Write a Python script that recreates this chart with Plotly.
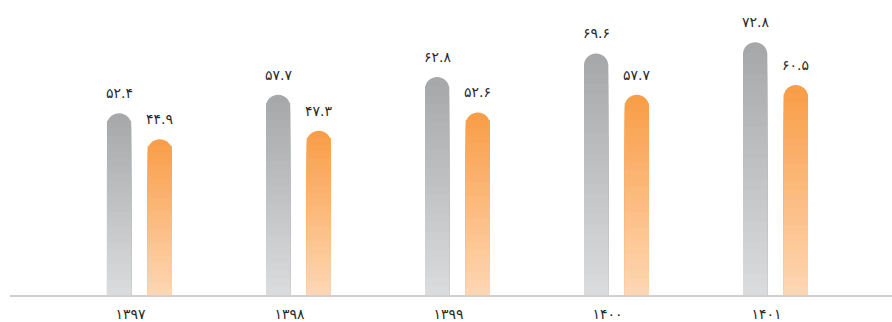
import plotly.graph_objects as go

years = ["۱۳۹۷", "۱۳۹۸", "۱۳۹۹", "۱۴۰۰", "۱۴۰۱"]
gray_vals = [52.4, 57.7, 62.8, 69.6, 72.8]
orange_vals = [44.9, 47.3, 52.6, 57.7, 60.5]
gray_labels = ["۵۲.۴", "۵۷.۷", "۶۲.۸", "۶۹.۶", "۷۲.۸"]
orange_labels = ["۴۴.۹", "۴۷.۳", "۵۲.۶", "۵۷.۷", "۶۰.۵"]

FONT = "DejaVu Sans, sans-serif"
BAR_W = 0.152
SHIFT = 0.128
STEPS = 24


def _mix(c1, c2, t):
    return "rgb({},{},{})".format(*[round(a + (b - a) * t) for a, b in zip(c1, c2)])


def add_gradient_bars(fig, vals, offset, top, bottom):
    xs = list(range(len(vals)))
    # full bar with rounded top, then lighter flat layers over the lower part
    for k in range(STEPS, 0, -1):
        frac = k / STEPS
        t = 1 - frac
        fig.add_trace(go.Bar(
            x=xs, y=[v * frac for v in vals],
            width=BAR_W, offset=offset - BAR_W / 2,
            marker=dict(color=_mix(top, bottom, t), line_width=0,
                        cornerradius="50%" if k == STEPS else 0),
            hoverinfo="skip" if k != STEPS else None,
            showlegend=False,
        ))


fig = go.Figure()
add_gradient_bars(fig, gray_vals, -SHIFT, (166, 168, 170), (220, 221, 223))
add_gradient_bars(fig, orange_vals, SHIFT, (249, 158, 72), (254, 216, 182))

for i in range(len(years)):
    for vals, labs, off in ((gray_vals, gray_labels, -SHIFT),
                            (orange_vals, orange_labels, SHIFT)):
        fig.add_annotation(x=i + off, y=vals[i], text=labs[i], showarrow=False,
                           yanchor="bottom", yshift=10,
                           font=dict(family=FONT, size=14, color="#2a2a2a"))

fig.update_layout(
    width=892, height=322,
    margin=dict(l=10, r=0, t=0, b=27),
    barmode="overlay",
    paper_bgcolor="white", plot_bgcolor="white",
    font=dict(family=FONT, size=14, color="#2a2a2a"),
    xaxis=dict(range=[-0.814, 4.733], tickmode="array",
               tickvals=list(range(len(years))), ticktext=years,
               showline=True, linecolor="#d0d0d0", linewidth=2,
               showgrid=False, zeroline=False, ticks="",
               ticklabelshift=-9, ticklabelstandoff=5),
    yaxis=dict(range=[0, 85], visible=False),
)

fig.write_html("out.html", config={"displayModeBar": False},
               post_script="document.body.style.margin='0';")
